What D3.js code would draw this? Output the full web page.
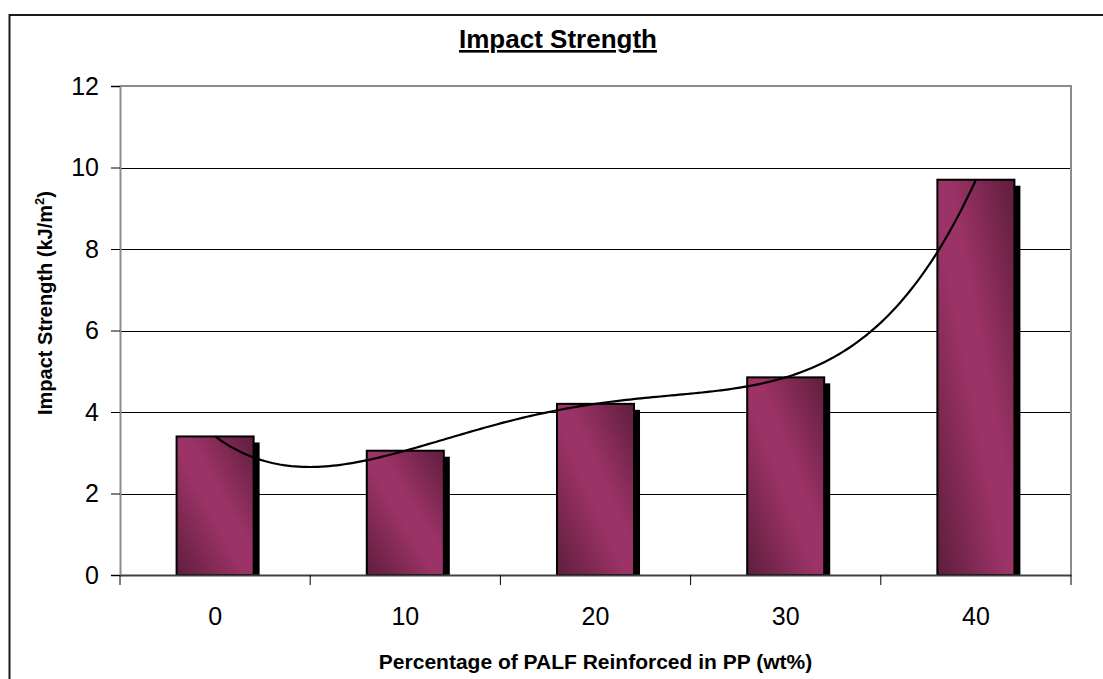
<!DOCTYPE html>
<html>
<head>
<meta charset="utf-8">
<script src="https://cdn.jsdelivr.net/npm/d3@7/dist/d3.min.js"></script>
<style>
  html, body { margin: 0; padding: 0; background: #fff; }
  svg { display: block; font-family: Arial, "Liberation Sans", sans-serif; }
</style>
</head>
<body>
<svg id="chart" width="1103" height="679"></svg>
<script>
// Impact strength of PP composites by PALF loading
const categories = ["0", "10", "20", "30", "40"];
const impactValues = [3.4, 3.05, 4.2, 4.85, 9.7];
const yTicks = [0, 2, 4, 6, 8, 10, 12];

const svg = d3.select("#chart");
const plot = { left: 120, right: 1071, top: 86, bottom: 575 };

const x = d3.scaleBand().domain(categories).range([plot.left, plot.right]).paddingInner(0).paddingOuter(0);
const y = d3.scaleLinear().domain([0, 12]).range([plot.bottom, plot.top]);
const barW = x.bandwidth() * 0.405;
const shadowOff = 6;

// outer chart frame (left and top edges visible)
svg.append("path")
  .attr("d", `M9.5,680 L9.5,15 L1104,15`)
  .attr("fill", "none").attr("stroke", "#1a1a1a").attr("stroke-width", 2);

// bar gradient
const defs = svg.append("defs");
const grad = defs.append("linearGradient").attr("id", "barFill")
  .attr("x1", 0).attr("y1", 1).attr("x2", 1).attr("y2", 0);
grad.append("stop").attr("offset", "0%").attr("stop-color", "#5e1d3d");
grad.append("stop").attr("offset", "45%").attr("stop-color", "#9b3366");
grad.append("stop").attr("offset", "58%").attr("stop-color", "#9b3366");
grad.append("stop").attr("offset", "100%").attr("stop-color", "#5e1d3d");

// gridlines
svg.append("g").selectAll("line").data(yTicks.filter(t => t > 0 && t < 12)).join("line")
  .attr("x1", plot.left).attr("x2", plot.right)
  .attr("y1", d => Math.round(y(d)) + 0.5).attr("y2", d => Math.round(y(d)) + 0.5)
  .attr("stroke", "#000").attr("stroke-width", 1);

// plot area border (top and right)
svg.append("path")
  .attr("d", `M${plot.left},${plot.top} L${plot.right},${plot.top} L${plot.right},${plot.bottom}`)
  .attr("fill", "none").attr("stroke", "#8c8c8c").attr("stroke-width", 2);

// bars with drop shadow
const barG = svg.append("g");
const cx = d => x(d) + x.bandwidth() / 2;
barG.selectAll("rect.shadow").data(categories).join("rect").attr("class", "shadow")
  .attr("x", (d) => cx(d) - barW / 2 + shadowOff)
  .attr("y", (d, i) => y(impactValues[i]) + shadowOff)
  .attr("width", barW)
  .attr("height", (d, i) => plot.bottom - y(impactValues[i]) - shadowOff)
  .attr("fill", "#000");
barG.selectAll("rect.bar").data(categories).join("rect").attr("class", "bar")
  .attr("x", d => cx(d) - barW / 2)
  .attr("y", (d, i) => y(impactValues[i]))
  .attr("width", barW)
  .attr("height", (d, i) => plot.bottom - y(impactValues[i]))
  .attr("fill", "url(#barFill)")
  .attr("stroke", "#000").attr("stroke-width", 2);

// y axis
const yAxis = svg.append("g").attr("transform", `translate(${plot.left},0)`)
  .call(d3.axisLeft(y).tickValues(yTicks).tickSize(9).tickPadding(12));
yAxis.select(".domain").attr("stroke", "#8c8c8c").attr("stroke-width", 2);
yAxis.selectAll(".tick line").attr("stroke", "#000");
yAxis.selectAll("text").attr("font-size", 25).attr("fill", "#000")
  .attr("font-family", "Arial, 'Liberation Sans', sans-serif");

// x axis
const xAxis = svg.append("g").attr("transform", `translate(0,${plot.bottom})`)
  .call(d3.axisBottom(x).tickSize(0).tickPadding(32));
xAxis.select(".domain").attr("stroke", "#404040").attr("stroke-width", 2);
xAxis.selectAll("text").attr("font-size", 25).attr("fill", "#000")
  .attr("font-family", "Arial, 'Liberation Sans', sans-serif");
// category separator ticks
const bounds = categories.map(c => x(c)).concat([plot.right]);
xAxis.selectAll("line.sep").data(bounds).join("line").attr("class", "sep")
  .attr("x1", d => d).attr("x2", d => d).attr("y1", 0).attr("y2", 10)
  .attr("stroke", "#000").attr("stroke-width", 1);

// 4th-order polynomial trendline through the bar values
const n = impactValues.length;
function poly(t) {
  let s = 0;
  for (let i = 0; i < n; i++) {
    let l = 1;
    for (let j = 0; j < n; j++) if (j !== i) l *= (t - j) / (i - j);
    s += impactValues[i] * l;
  }
  return s;
}
const idx = d3.scaleLinear().domain([0, n - 1]).range([cx(categories[0]), cx(categories[n - 1])]);
const trendPts = d3.range(0, n - 1 + 1e-9, 0.02).map(t => [idx(t), y(poly(t))]);
svg.append("path")
  .attr("d", d3.line()(trendPts))
  .attr("fill", "none").attr("stroke", "#000").attr("stroke-width", 2.2);

// titles
svg.append("text").attr("x", 558).attr("y", 48).attr("text-anchor", "middle")
  .attr("font-size", 26).attr("font-weight", "bold").attr("text-decoration", "underline")
  .text("Impact Strength");

svg.append("text").attr("x", (plot.left + plot.right) / 2).attr("y", 669).attr("text-anchor", "middle")
  .attr("font-size", 21).attr("font-weight", "bold")
  .text("Percentage of PALF Reinforced in PP (wt%)");

const yt = svg.append("text").attr("transform", "translate(52,303) rotate(-90)")
  .attr("text-anchor", "middle").attr("font-size", 20).attr("font-weight", "bold");
yt.append("tspan").text("Impact Strength (kJ/m");
yt.append("tspan").attr("font-size", 13).attr("dy", -8).text("2");
yt.append("tspan").attr("dy", 8).text(")");
</script>
</body>
</html>
